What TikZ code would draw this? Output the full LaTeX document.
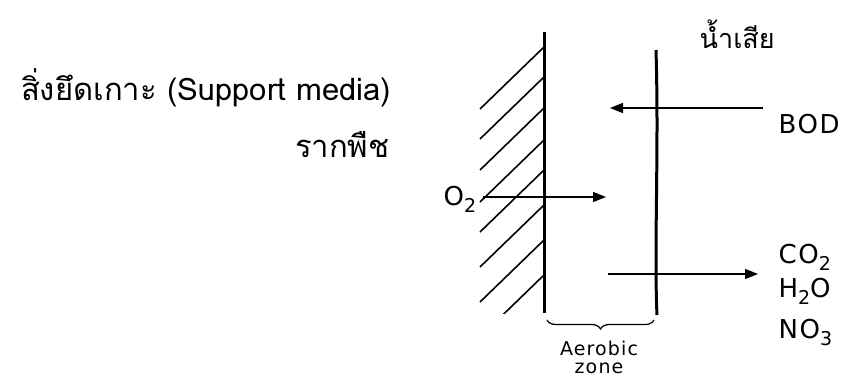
\documentclass[tikz,border=0pt]{standalone}
\usepackage{fontspec}
\setsansfont{DejaVu Sans}
\newfontfamily\thaifont[Script=Thai]{Loma}
\newfontfamily\labelfont[LetterSpace=6]{DejaVu Sans}
\usetikzlibrary{arrows.meta,decorations.pathreplacing}
\newcommand{\chemsub}[1]{\raisebox{-0.55ex}{\fontsize{19}{19}\selectfont #1}}

\begin{document}
\begin{tikzpicture}[x=1pt,y=-1pt,line width=1.2pt,>={Triangle[length=13pt,width=10pt]},
  lbl/.style={font=\labelfont\fontsize{26}{28}\selectfont,inner sep=0pt},
  thai/.style={font=\thaifont\fontsize{31}{34}\selectfont,inner sep=0pt}]
  \useasboundingbox (0,0) rectangle (846,376);
  % support media (root surface) with hatching
  \begin{scope}
    \clip (470,30) rectangle (545,313);
    \foreach \y in {47,77,108,140,170,205,240,275}
      \draw[line width=1.6pt] (544,\y) -- ++(-64,62);
  \end{scope}
  \draw[line width=3pt] (544,32) -- (544,313);
  % biofilm boundary
  \draw[line width=3pt] (656,50) .. controls (659,150) and (654,250) .. (657,315);
  % labels
  \node[thai,anchor=base east] (media) at (392,100) {สิ่งยึดเกาะ (Support media)};
  \node[thai,anchor=base east] (root) at (390,157) {รากพืช};
  \node[thai,font=\thaifont\fontsize{27}{30}\selectfont,anchor=base west] (water) at (699,48) {น้ำเสีย};
  \node[lbl,anchor=base west] (bod) at (778,133) {BOD};
  \node[lbl,anchor=base west] (o2) at (443,205) {O\chemsub{2}};
  \node[lbl,anchor=base west] (co2) at (778,263) {CO\chemsub{2}};
  \node[lbl,anchor=base west] (h2o) at (778,297) {H\chemsub{2}O};
  \node[lbl,anchor=base west] (no3) at (778,338) {NO\chemsub{3}};
  % arrows
  \coordinate (o2s) at (483,197);
  \coordinate (o2e) at (606,197);
  \coordinate (bods) at (763,108);
  \coordinate (bode) at (610,108);
  \coordinate (outs) at (608,274);
  \coordinate (oute) at (758,274);
  \draw[->] (o2s) -- (o2e);
  \draw[->] (bods) -- (bode);
  \draw[->] (outs) -- (oute);
  % aerobic zone
  \coordinate (zl) at (547,320);
  \coordinate (zr) at (654,320);
  \draw[decorate,decoration={brace,mirror,amplitude=9pt}] (zl) -- (zr);
  \node[lbl,font=\labelfont\fontsize{19}{21}\selectfont,anchor=base] (aer) at (599,355) {Aerobic};
  \node[lbl,font=\labelfont\fontsize{19}{21}\selectfont,anchor=base] (zone) at (599,373) {zone};
\end{tikzpicture}
\end{document}
